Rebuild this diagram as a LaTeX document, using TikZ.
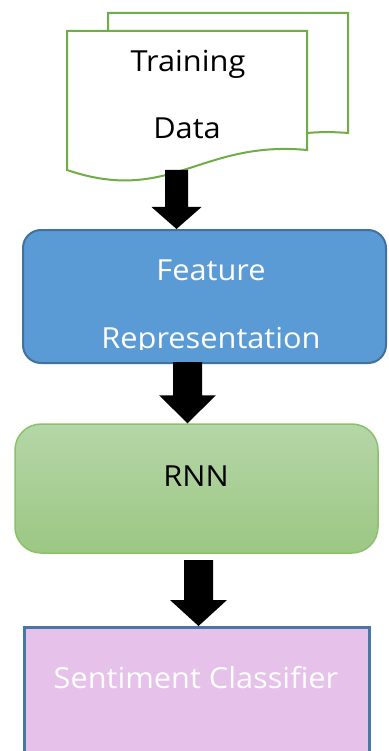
\documentclass[tikz,border=0pt]{standalone}
\usepackage{fontspec}
\setmainfont{Open Sans}[FakeStretch=1.06]
\usetikzlibrary{calc}
\definecolor{docgreen}{HTML}{70AD47}
\definecolor{featfill}{HTML}{5B9BD5}
\definecolor{featline}{HTML}{41719C}
\definecolor{rnntop}{HTML}{B5D6A7}
\definecolor{rnnbot}{HTML}{9CC783}
\definecolor{rnnline}{HTML}{8CC16C}
\definecolor{sentfill}{HTML}{E6C1EA}
\definecolor{sentline}{HTML}{4A75A8}
\tikzset{
  docline/.style={draw=docgreen, line width=2pt, fill=white},
  bigtext/.style={font=\fontsize{29}{31}\selectfont, anchor=base, inner sep=0pt},
  featbox/.style={draw=featline, fill=featfill, line width=2pt, rounded corners=18pt, inner sep=0pt},
  rnnbox/.style={draw=rnnline, top color=rnntop, bottom color=rnnbot, line width=1.5pt, rounded corners=26pt, inner sep=0pt},
  sentbox/.style={draw=sentline, fill=sentfill, line width=3pt, inner sep=0pt},
  blockarrow/.style={fill=black}
}
\newcommand\barrow[5]{%
  \path[blockarrow] let \p1=(#1), \p2=(#2) in
    (\x1-#3pt,\y1) -- (\x1+#3pt,\y1) -- (\x1+#3pt,\y2+#5pt) -- (\x1+#4pt,\y2+#5pt)
    -- (\x1,\y2) -- (\x1-#4pt,\y2+#5pt) -- (\x1-#3pt,\y2+#5pt) -- cycle;}
\begin{document}
\begin{tikzpicture}[x=1pt,y=-1pt]
\useasboundingbox (0,0) rectangle (388,751);
\clip (0,0) rectangle (388,751);
% back page
\path[docline] (108,13) -- (348,13) -- (348,133)
  .. controls (241,124) and (211,187) .. (108,152) -- cycle;
% front page
\path[docline] (67,31) -- (307,31) -- (307,150)
  .. controls (200,140) and (170,205) .. (67,170) -- cycle;
\node[bigtext] (t1) at (188,72) {Training};
\node[bigtext] (t2) at (187,139) {Data};
% feature representation
\node[featbox, minimum width=363pt, minimum height=133pt] (feat) at (204.5,296.5) {};
\node[bigtext, text=white] (f1) at (211,280) {Feature};
\begin{scope}
\clip (0,0) rectangle (388,349);
\node[bigtext, text=white] (f2) at (211,348) {Representation};
\end{scope}
% RNN
\node[rnnbox, minimum width=363pt, minimum height=129pt] (rnn) at (196.5,488.5) {};
\node[bigtext] (r1) at (196,486) {RNN};
% sentiment classifier
\node[sentbox, minimum width=345pt, minimum height=160pt, anchor=north west] (sent) at (23,626) {};
\node[bigtext, text=white] (s1) at (196,688) {Sentiment Classifier};
% arrows
\coordinate (a1s) at (176.5,170);
\coordinate (a2s) at (187.5,362);
\coordinate (a3s) at (198.5,560);
\barrow{a1s}{feat.north -| a1s}{11.5}{25}{22}
\barrow{a2s}{rnn.north -| a2s}{14.5}{28.5}{28}
\barrow{a3s}{sent.north -| a3s}{14.5}{28.5}{26}
\end{tikzpicture}
\end{document}
